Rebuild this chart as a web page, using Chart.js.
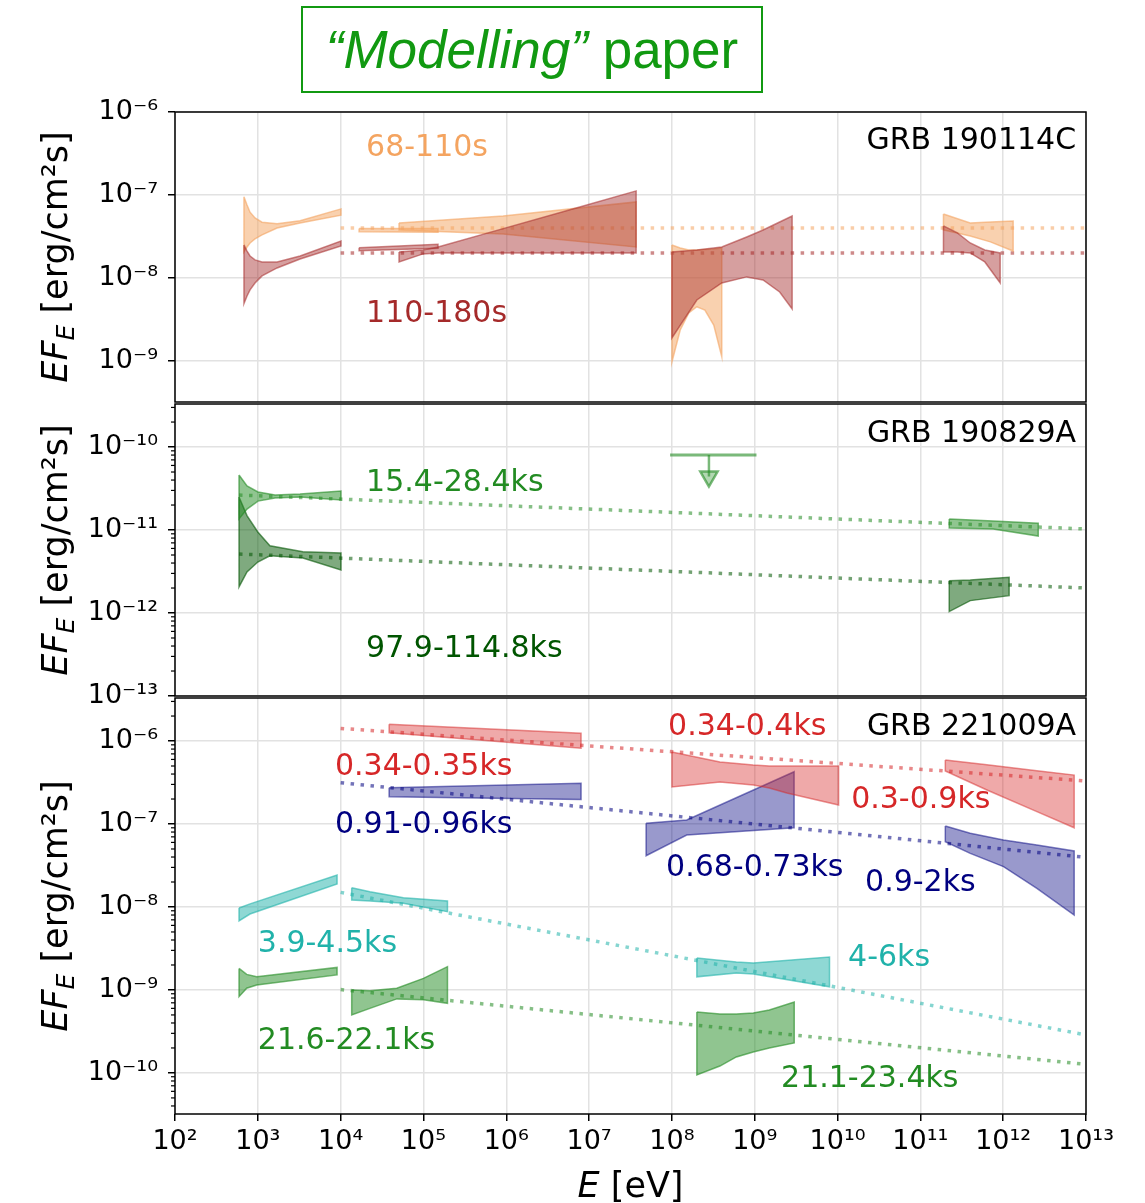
<!DOCTYPE html>
<html>
<head>
<meta charset="utf-8">
<title>EF_E spectra</title>
<script src="https://cdn.jsdelivr.net/npm/chart.js@4.4.0/dist/chart.umd.min.js"></script>
<style>
  html, body { margin: 0; padding: 0; background: #fff; }
  body { position: relative; width: 1145px; height: 1203px; overflow: hidden; }
  #banner {
    position: absolute; left: 301px; top: 6px; width: 458px; height: 83px;
    border: 2px solid #119911; color: #119911;
    font: 53px "Liberation Sans", Arial, sans-serif;
    line-height: 83px; text-align: center; white-space: nowrap;
  }
  .panel { position: absolute; left: 0; width: 1145px; }
</style>
</head>
<body>
<div id="banner"><i>“Modelling”</i> paper</div>
<div class="panel" style="top:92px;height:320px"><canvas id="grb1"></canvas></div>
<div class="panel" style="top:384px;height:330px"><canvas id="grb2"></canvas></div>
<div class="panel" style="top:678px;height:525px"><canvas id="grb3"></canvas></div>
<script>
// axes
const xTicks = [1e2, 1e3, 1e4, 1e5, 1e6, 1e7, 1e8, 1e9, 1e10, 1e11, 1e12, 1e13];
const yTicks1 = [1e-9, 1e-8, 1e-7, 1e-6];
const yTicks2 = [1e-13, 1e-12, 1e-11, 1e-10];
const yTicks3 = [1e-10, 1e-9, 1e-8, 1e-7, 1e-6];

// ---- GRB 190114C : 68-110 s (orange) ----
const a_xrtE = [680, 741, 806, 925, 1125, 1710, 3240, 1.01e4];
const a_xrtHi = [9.5e-8, 7.59e-8, 6.2e-8, 5.28e-8, 4.7e-8, 4.5e-8, 4.9e-8, 6.8e-8];
const a_xrtLo = [2.06e-8, 2.36e-8, 2.64e-8, 2.95e-8, 3.3e-8, 4.0e-8, 4.6e-8, 5.7e-8];
const a_batE = [1.67e4, 1.5e5];
const a_batHi = [3.95e-8, 3.95e-8];
const a_batLo = [3.6e-8, 3.55e-8];
const a_gbmE = [5.07e4, 9.15e5, 3.7e7];
const a_gbmHi = [4.6e-8, 5.58e-8, 8.24e-8];
const a_gbmLo = [3.79e-8, 3.39e-8, 2.36e-8];
const a_latE = [1.0e8, 1.26e8, 1.6e8, 2.0e8, 2.5e8, 3.2e8, 4.0e8];
const a_latHi = [2.5e-8, 2.3e-8, 2.17e-8, 2.17e-8, 2.2e-8, 2.23e-8, 2.3e-8];
const a_latLo = [9.7e-10, 2.36e-9, 3.8e-9, 4.5e-9, 4.1e-9, 2.7e-9, 1.12e-9];
const a_magE = [1.9e11, 4e11, 7e11, 1.32e12];
const a_magHi = [5.9e-8, 4.6e-8, 4.73e-8, 4.86e-8];
const a_magLo = [3.79e-8, 3.21e-8, 2.72e-8, 2.11e-8];
const a_fitE = [1e4, 1e13];
const a_fitF = [4.0e-8, 4.0e-8];

// ---- GRB 190114C : 110-180 s (brown) ----
const b_xrtE = [680, 741, 806, 925, 1125, 1710, 3240, 1.01e4];
const b_xrtHi = [2.5e-8, 2.11e-8, 1.84e-8, 1.65e-8, 1.56e-8, 1.56e-8, 1.84e-8, 2.79e-8];
const b_xrtLo = [4.9e-9, 6.07e-9, 7.2e-9, 8.7e-9, 1.06e-8, 1.32e-8, 1.69e-8, 2.43e-8];
const b_batE = [1.67e4, 1.5e5];
const b_batHi = [2.32e-8, 2.55e-8];
const b_batLo = [2.13e-8, 2.28e-8];
const b_gbmE = [5.07e4, 9.9e4, 1.5e5, 9.15e5, 7.16e6, 3.7e7];
const b_gbmHi = [2.06e-8, 2.17e-8, 2.36e-8, 3.93e-8, 7.03e-8, 1.12e-7];
const b_gbmLo = [1.56e-8, 1.95e-8, 2.0e-8, 2.0e-8, 2.0e-8, 2.0e-8];
const b_latE = [1e8, 2e8, 4e8, 8e8, 1.26e9, 2e9, 2.83e9];
const b_latHi = [2.06e-8, 2.17e-8, 2.36e-8, 3.12e-8, 3.79e-8, 4.73e-8, 5.58e-8];
const b_latLo = [1.89e-9, 5.43e-9, 8.7e-9, 1.03e-8, 9.46e-9, 6.78e-9, 4.24e-9];
const b_magE = [1.9e11, 2.8e11, 4e11, 6e11, 9.2e11];
const b_magHi = [4.24e-8, 3.49e-8, 2.64e-8, 2.17e-8, 2.0e-8];
const b_magLo = [2.06e-8, 2.06e-8, 2.0e-8, 1.56e-8, 8.7e-9];
const b_fitE = [1e4, 1e13];
const b_fitF = [2.0e-8, 2.0e-8];

// ---- GRB 190829A : 15.4-28.4 ks ----
const c_xrtE = [593, 741, 1005, 1614, 3235, 1.01e4];
const c_xrtHi = [4.6e-11, 3.39e-11, 2.87e-11, 2.64e-11, 2.72e-11, 2.95e-11];
const c_xrtLo = [1.36e-11, 1.79e-11, 2.23e-11, 2.43e-11, 2.5e-11, 2.3e-11];
const c_hessE = [2.23e11, 7.57e11, 2.65e12];
const c_hessHi = [1.36e-11, 1.28e-11, 1.21e-11];
const c_hessLo = [1.06e-11, 1.03e-11, 8.47e-12];
const c_fitE = [593, 1e13];
const c_fitF = [2.64e-11, 1.03e-11];
const c_ulE = [9.5e7, 1.05e9];
const c_ulF = [8.0e-11, 8.0e-11];
const c_arrowE = [2.8e8, 2.8e8];
const c_arrowF = [8.0e-11, 4.4e-11];

// ---- GRB 190829A : 97.9-114.8 ks ----
const d_xrtE = [593, 740, 1000, 1400, 3500, 1.01e4];
const d_xrtHi = [2.5e-11, 1.49e-11, 9.46e-12, 6.47e-12, 5.48e-12, 5.28e-12];
const d_xrtLo = [2.06e-12, 3.12e-12, 4.11e-12, 4.9e-12, 4.6e-12, 3.3e-12];
const d_hessE = [2.23e11, 4.0e11, 1.18e12];
const d_hessHi = [2.45e-12, 2.5e-12, 2.69e-12];
const d_hessLo = [1.04e-12, 1.41e-12, 1.62e-12];
const d_fitE = [593, 1e13];
const d_fitF = [5.14e-12, 2.0e-12];

// ---- GRB 221009A ----
const fit3E = [1e4, 1e13];
const red_fitF = [1.42e-6, 3.3e-7];
const navy_fitF = [3.15e-7, 3.97e-8];
const teal_fitF = [1.5e-8, 2.87e-10];
const green_fitF = [1.01e-9, 1.27e-10];

const red_xE = [3.85e4, 8.0e6];
const red_xHi = [1.59e-6, 1.24e-6];
const red_xLo = [1.26e-6, 8.17e-7];
const red_gE = [1e8, 3.8e8, 9.6e8, 1.5e9, 2.44e9, 1.03e10];
const red_gHi = [7.37e-7, 5.58e-7, 5.14e-7, 5.0e-7, 5.0e-7, 5.0e-7];
const red_gLo = [2.79e-7, 3.21e-7, 2.95e-7, 2.72e-7, 2.36e-7, 1.69e-7];
const red_tE = [2.0e11, 6.36e11, 2.55e12, 7.2e12];
const red_tHi = [5.9e-7, 5.17e-7, 4.38e-7, 3.89e-7];
const red_tLo = [4.35e-7, 2.57e-7, 1.41e-7, 9.0e-8];

const navy_xE = [3.85e4, 8.0e6];
const navy_xHi = [2.74e-7, 3.09e-7];
const navy_xLo = [2.13e-7, 1.98e-7];
const navy_gE = [4.88e7, 1.51e8, 2.99e9];
const navy_gHi = [1.02e-7, 1.12e-7, 4.27e-7];
const navy_gLo = [4.15e-8, 7.36e-8, 9.02e-8];
const navy_tE = [2.0e11, 4.0e11, 1.01e12, 2.55e12, 7.2e12];
const navy_tHi = [9.46e-8, 7.73e-8, 6.41e-8, 5.58e-8, 4.73e-8];
const navy_tLo = [6.12e-8, 4.43e-8, 3.06e-8, 1.68e-8, 8.0e-9];

const teal_xE = [593, 805, 9.06e3];
const teal_xHi = [9.73e-9, 1.09e-8, 2.43e-8];
const teal_xLo = [6.78e-9, 8.23e-9, 1.89e-8];
const teal_hE = [1.36e4, 2.26e4, 5.72e4, 1.95e5];
const teal_hHi = [1.71e-8, 1.53e-8, 1.29e-8, 1.18e-8];
const teal_hLo = [1.21e-8, 1.18e-8, 1.11e-8, 8.77e-9];
const teal_gE = [2e8, 6e8, 9.6e8, 8e9];
const teal_gHi = [2.43e-9, 2.17e-9, 2.11e-9, 2.5e-9];
const teal_gLo = [1.44e-9, 1.6e-9, 1.56e-9, 1.09e-9];

const green_xE = [593, 734, 970, 9.06e3];
const green_xHi = [1.82e-9, 1.54e-9, 1.44e-9, 1.87e-9];
const green_xLo = [8.3e-10, 1.05e-9, 1.15e-9, 1.52e-9];
const green_hE = [1.36e4, 2.26e4, 4.76e4, 1.0e5, 1.95e5];
const green_hHi = [1.0e-9, 9.8e-10, 1.05e-9, 1.38e-9, 1.91e-9];
const green_hLo = [5.0e-10, 6.0e-10, 7.8e-10, 7.6e-10, 6.9e-10];
const green_gE = [2e8, 3.8e8, 6e8, 9.6e8, 1.5e9, 3e9];
const green_gHi = [5.43e-10, 5.14e-10, 5.14e-10, 5.28e-10, 5.74e-10, 7.16e-10];
const green_gLo = [9.46e-11, 1.21e-10, 1.56e-10, 1.79e-10, 2.0e-10, 2.3e-10];

// colours
const ORANGE = [244, 164, 96], BROWN = [165, 42, 42];
const FGREEN = [34, 139, 34], DGREEN = [0, 85, 0];
const TRED = [214, 39, 40], NAVY = [0, 0, 128], TEAL = [32, 178, 170];
const BLACK = [0, 0, 0];
const rgba = (c, a) => `rgba(${c[0]},${c[1]},${c[2]},${a})`;

Chart.defaults.font.family = '"DejaVu Sans"';

const SUP = { '-': '⁻', '0': '⁰', '1': '¹', '2': '²', '3': '³', '4': '⁴', '5': '⁵', '6': '⁶', '7': '⁷', '8': '⁸', '9': '⁹' };
const powLabel = v => '10' + String(Math.round(Math.log10(v))).split('').map(ch => SUP[ch]).join('');

// closed polygon: upper edge left->right, lower edge back
function band(E, hi, lo, c, a = 0.5) {
    const pts = E.map((e, i) => ({ x: e, y: hi[i] }))
        .concat(E.map((e, i) => ({ x: e, y: lo[i] })).reverse());
    pts.push(pts[0]);
    return {
        data: pts, fill: 'shape', tension: 0,
        backgroundColor: rgba(c, a), borderColor: rgba(c, a + 0.1),
        borderWidth: 1.5, pointRadius: 0
    };
}

function fitLine(E, F, c, a = 0.6) {
    return {
        data: E.map((e, i) => ({ x: e, y: F[i] })), fill: false,
        borderColor: rgba(c, a), borderWidth: 3.5, borderDash: [3.5, 6.5], pointRadius: 0
    };
}

function drawParts(ctx, parts, cx, cy, rot) {
    let w = 0;
    parts.forEach(p => { ctx.font = p[1]; w += ctx.measureText(p[0]).width; });
    ctx.save();
    ctx.translate(cx, cy);
    ctx.rotate(rot);
    ctx.fillStyle = '#000';
    ctx.textAlign = 'left';
    ctx.textBaseline = 'alphabetic';
    let px = -w / 2;
    parts.forEach(p => {
        ctx.font = p[1];
        ctx.fillText(p[0], px, p[2]);
        px += ctx.measureText(p[0]).width;
    });
    ctx.restore();
}

function overlay(p) {
    return {
        id: 'overlay',
        afterDraw(chart) {
            const { ctx, chartArea: a, scales: { x, y } } = chart;
            ctx.save();
            if (p.minor) {
                ctx.strokeStyle = '#000';
                ctx.lineWidth = 1.2;
                const n0 = Math.floor(Math.log10(y.min)), n1 = Math.ceil(Math.log10(y.max));
                for (let n = n0; n < n1; n++) {
                    for (let k = 2; k < 10; k++) {
                        const v = k * Math.pow(10, n);
                        if (v < y.min || v > y.max) continue;
                        const py = y.getPixelForValue(v);
                        ctx.beginPath();
                        ctx.moveTo(a.left - 4, py);
                        ctx.lineTo(a.left, py);
                        ctx.stroke();
                    }
                }
            }
            ctx.strokeStyle = '#000';
            ctx.lineWidth = 1.5;
            ctx.strokeRect(a.left, a.top, a.right - a.left, a.bottom - a.top);

            ctx.font = '30px "DejaVu Sans"';
            ctx.textBaseline = 'alphabetic';
            p.notes.forEach(n => {
                ctx.fillStyle = rgba(n.c, 1);
                ctx.textAlign = n.right ? 'right' : 'left';
                ctx.fillText(n.t, x.getPixelForValue(n.x), y.getPixelForValue(n.y) + 11);
            });
            ctx.restore();

            drawParts(ctx, [
                ['EF', 'italic 35px "DejaVu Sans"', 0],
                ['E', 'italic 25px "DejaVu Sans"', 7],
                [' [erg/cm²s]', '35px "DejaVu Sans"', 0]
            ], 67, (a.top + a.bottom) / 2, -Math.PI / 2);

            if (p.showX) {
                drawParts(ctx, [
                    ['E', 'italic 35px "DejaVu Sans"', 0],
                    [' [eV]', '35px "DejaVu Sans"', 0]
                ], (a.left + a.right) / 2, 519, 0);
            }
        }
    };
}

function makePanel(id, p) {
    new Chart(document.getElementById(id), {
        type: 'line',
        data: { datasets: p.datasets },
        options: {
            responsive: true,
            maintainAspectRatio: false,
            animation: false,
            devicePixelRatio: 1,
            layout: { padding: { top: 20, bottom: p.padBottom, left: 0, right: 59 } },
            plugins: { legend: { display: false }, tooltip: { enabled: false } },
            scales: {
                x: {
                    type: 'logarithmic', min: 1e2, max: 1e13,
                    afterBuildTicks: s => { s.ticks = xTicks.map(v => ({ value: v })); },
                    afterFit: s => { s.height = p.showX ? 89 : 0; s.paddingLeft = 0; s.paddingRight = 0; },
                    border: { display: false },
                    grid: { color: '#e2e2e2', lineWidth: 1.5, drawTicks: p.showX, tickLength: 7, tickColor: '#000', tickWidth: 1.5 },
                    ticks: {
                        display: p.showX, autoSkip: false, maxRotation: 0, padding: 5,
                        color: '#000', font: { size: 27 }, callback: v => powLabel(v)
                    }
                },
                y: {
                    type: 'logarithmic', min: p.yMin, max: p.yMax,
                    afterBuildTicks: s => { s.ticks = p.yTicks.map(v => ({ value: v })); },
                    afterFit: s => { s.width = 175; s.paddingTop = 0; s.paddingBottom = 0; },
                    border: { display: false },
                    grid: { color: '#e2e2e2', lineWidth: 1.5, tickLength: 7, tickColor: '#000', tickWidth: 1.5 },
                    ticks: { padding: 10, color: '#000', font: { size: 27 }, callback: v => powLabel(v) }
                }
            }
        },
        plugins: [overlay(p)]
    });
}

// GRB 190114C (brown drawn above orange: lower index is drawn last)
makePanel('grb1', {
    yMin: 3.2e-10, yMax: 1e-6, yTicks: yTicks1, padBottom: 10, showX: false, minor: false,
    datasets: [
        band(b_xrtE, b_xrtHi, b_xrtLo, BROWN, 0.45),
        band(b_batE, b_batHi, b_batLo, BROWN, 0.45),
        band(b_gbmE, b_gbmHi, b_gbmLo, BROWN, 0.45),
        band(b_latE, b_latHi, b_latLo, BROWN, 0.45),
        band(b_magE, b_magHi, b_magLo, BROWN, 0.45),
        band(a_xrtE, a_xrtHi, a_xrtLo, ORANGE, 0.5),
        band(a_batE, a_batHi, a_batLo, ORANGE, 0.5),
        band(a_gbmE, a_gbmHi, a_gbmLo, ORANGE, 0.5),
        band(a_latE, a_latHi, a_latLo, ORANGE, 0.5),
        band(a_magE, a_magHi, a_magLo, ORANGE, 0.5),
        fitLine(a_fitE, a_fitF, ORANGE, 0.55),
        fitLine(b_fitE, b_fitF, BROWN, 0.55)
    ],
    notes: [
        { t: '68-110s', x: 2.03e4, y: 4.0e-7, c: ORANGE },
        { t: '110-180s', x: 2.03e4, y: 4.0e-9, c: BROWN },
        { t: 'GRB 190114C', x: 7.6e12, y: 4.87e-7, c: BLACK, right: true }
    ]
});

// GRB 190829A
makePanel('grb2', {
    yMin: 1e-13, yMax: 3.3e-10, yTicks: yTicks2, padBottom: 18, showX: false, minor: true,
    datasets: [
        band(c_xrtE, c_xrtHi, c_xrtLo, FGREEN, 0.5),
        band(d_xrtE, d_xrtHi, d_xrtLo, DGREEN, 0.5),
        band(c_hessE, c_hessHi, c_hessLo, FGREEN, 0.5),
        band(d_hessE, d_hessHi, d_hessLo, DGREEN, 0.5),
        {
            data: c_ulE.map((e, i) => ({ x: e, y: c_ulF[i] })), fill: false,
            borderColor: rgba(FGREEN, 0.6), borderWidth: 3, pointRadius: 0
        },
        {
            data: c_arrowE.map((e, i) => ({ x: e, y: c_arrowF[i] })), fill: false,
            borderColor: rgba(FGREEN, 0.6), borderWidth: 2.5,
            pointRadius: [0, 10], pointStyle: 'triangle', rotation: 180,
            pointBackgroundColor: rgba(FGREEN, 0.35), pointBorderColor: rgba(FGREEN, 0.6), pointBorderWidth: 2.5
        },
        fitLine(c_fitE, c_fitF, FGREEN, 0.55),
        fitLine(d_fitE, d_fitF, DGREEN, 0.55)
    ],
    notes: [
        { t: '15.4-28.4ks', x: 2.03e4, y: 4.0e-11, c: FGREEN },
        { t: '97.9-114.8ks', x: 2.03e4, y: 4.0e-13, c: DGREEN },
        { t: 'GRB 190829A', x: 7.6e12, y: 1.56e-10, c: BLACK, right: true }
    ]
});

// GRB 221009A
makePanel('grb3', {
    yMin: 3.2e-11, yMax: 3.3e-6, yTicks: yTicks3, padBottom: 0, showX: true, minor: true,
    datasets: [
        band(red_xE, red_xHi, red_xLo, TRED, 0.4),
        band(red_gE, red_gHi, red_gLo, TRED, 0.4),
        band(red_tE, red_tHi, red_tLo, TRED, 0.4),
        band(navy_xE, navy_xHi, navy_xLo, NAVY, 0.4),
        band(navy_gE, navy_gHi, navy_gLo, NAVY, 0.4),
        band(navy_tE, navy_tHi, navy_tLo, NAVY, 0.4),
        band(teal_xE, teal_xHi, teal_xLo, TEAL, 0.5),
        band(teal_hE, teal_hHi, teal_hLo, TEAL, 0.5),
        band(teal_gE, teal_gHi, teal_gLo, TEAL, 0.5),
        band(green_xE, green_xHi, green_xLo, FGREEN, 0.5),
        band(green_hE, green_hHi, green_hLo, FGREEN, 0.5),
        band(green_gE, green_gHi, green_gLo, FGREEN, 0.5),
        fitLine(fit3E, red_fitF, TRED, 0.55),
        fitLine(fit3E, navy_fitF, NAVY, 0.55),
        fitLine(fit3E, teal_fitF, TEAL, 0.55),
        fitLine(fit3E, green_fitF, FGREEN, 0.55)
    ],
    notes: [
        { t: '0.34-0.4ks', x: 9.0e7, y: 1.6e-6, c: TRED },
        { t: 'GRB 221009A', x: 7.6e12, y: 1.6e-6, c: BLACK, right: true },
        { t: '0.34-0.35ks', x: 8.55e3, y: 5.28e-7, c: TRED },
        { t: '0.3-0.9ks', x: 1.46e10, y: 2.11e-7, c: TRED },
        { t: '0.91-0.96ks', x: 8.55e3, y: 1.06e-7, c: NAVY },
        { t: '0.68-0.73ks', x: 8.5e7, y: 3.21e-8, c: NAVY },
        { t: '0.9-2ks', x: 2.15e10, y: 2.11e-8, c: NAVY },
        { t: '3.9-4.5ks', x: 1.0e3, y: 3.89e-9, c: TEAL },
        { t: '4-6ks', x: 1.34e10, y: 2.64e-9, c: TEAL },
        { t: '21.6-22.1ks', x: 1.0e3, y: 2.64e-10, c: FGREEN },
        { t: '21.1-23.4ks', x: 2.08e9, y: 9.2e-11, c: FGREEN }
    ]
});
</script>
</body>
</html>
